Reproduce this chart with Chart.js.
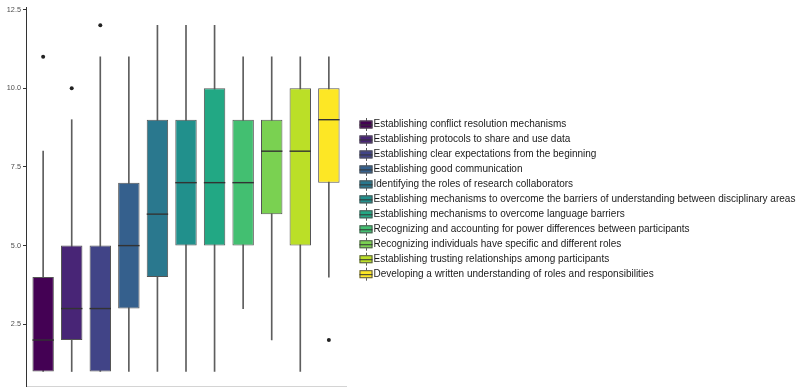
<!DOCTYPE html>
<html>
<head>
<meta charset="utf-8">
<script src="https://cdn.jsdelivr.net/npm/chart.js@4"></script>
<style>
  html, body { margin: 0; padding: 0; background: #ffffff; }
  #wrap { width: 799px; height: 390px; position: relative; }
</style>
</head>
<body>
<div id="wrap"><canvas id="c" width="799" height="390"></canvas></div>
<script>
// Collaboration practices, rated on a 1-12 scale
const categories = [
  'Establishing conflict resolution mechanisms',
  'Establishing protocols to share and use data',
  'Establishing clear expectations from the beginning',
  'Establishing good communication',
  'Identifying the roles of research collaborators',
  'Establishing mechanisms to overcome the barriers of understanding between disciplinary areas',
  'Establishing mechanisms to overcome language barriers',
  'Recognizing and accounting for power differences between participants',
  'Recognizing individuals have specific and different roles',
  'Establishing trusting relationships among participants',
  'Developing a written understanding of roles and responsibilities'
];

// Five-number summaries per practice
const whiskerLow  = [1, 1, 1, 1, 1, 1, 1, 3, 2, 1, 4];
const lowerQuart  = [1, 2, 1, 3, 4, 5, 5, 5, 6, 5, 7];
const medians     = [2, 3, 3, 5, 6, 7, 7, 7, 8, 8, 9];
const upperQuart  = [4, 5, 5, 7, 9, 9, 10, 9, 9, 10, 10];
const whiskerHigh = [8, 9, 11, 11, 12, 12, 12, 11, 11, 11, 11];

// Outlying responses: [category index, value]
const outliers = [[0, 11], [1, 10], [2, 12], [10, 2]];

// Y axis ticks
const yTicks = [2.5, 5, 7.5, 10, 12.5];
const yTickLabels = ['2.5', '5.0', '7.5', '10.0', '12.5'];

// viridis palette
const colors = ['#440154', '#482576', '#414487', '#35608D', '#2A788E', '#21908C',
                '#22A884', '#43BF71', '#7AD151', '#BBDF27', '#FDE725'];

const boxData = categories.map((c, i) => ({ x: i + 1, y: [lowerQuart[i], upperQuart[i]] }));
const whiskerData = categories.map((c, i) => ({ x: i + 1, y: [whiskerLow[i], whiskerHigh[i]] }));
const outlierData = outliers.map(o => ({ x: o[0] + 1, y: o[1] }));

// median lines across each box
const medianPlugin = {
  id: 'medians',
  afterDatasetsDraw(chart) {
    const meta = chart.getDatasetMeta(0);
    const ys = chart.scales.y;
    const ctx = chart.ctx;
    ctx.save();
    ctx.strokeStyle = '#333333';
    ctx.lineWidth = 1.4;
    meta.data.forEach((bar, i) => {
      const y = ys.getPixelForValue(medians[i]);
      ctx.beginPath();
      ctx.moveTo(bar.x - bar.width / 2, y);
      ctx.lineTo(bar.x + bar.width / 2, y);
      ctx.stroke();
    });
    ctx.restore();
  }
};

// boxplot-style legend keys
const legendPlugin = {
  id: 'boxLegend',
  afterDraw(chart) {
    const ctx = chart.ctx;
    const x0 = 359.5, y0 = 124.5, step = 14.97;
    ctx.save();
    ctx.font = '10px "Liberation Sans", Arial, sans-serif';
    ctx.textBaseline = 'middle';
    ctx.textAlign = 'left';
    categories.forEach((label, i) => {
      const y = y0 + i * step;
      ctx.strokeStyle = '#555555';
      ctx.lineWidth = 1;
      ctx.beginPath();
      ctx.moveTo(x0 + 7, y - 6.5);
      ctx.lineTo(x0 + 7, y + 6.5);
      ctx.stroke();
      ctx.fillStyle = colors[i];
      ctx.fillRect(x0, y - 4, 13, 8);
      ctx.strokeRect(x0 + 0.5, y - 3.5, 12, 7);
      ctx.strokeStyle = '#333333';
      ctx.beginPath();
      ctx.moveTo(x0, y + 0.5);
      ctx.lineTo(x0 + 13, y + 0.5);
      ctx.stroke();
      ctx.fillStyle = '#1a1a1a';
      ctx.fillText(label, x0 + 14, y);
    });
    ctx.restore();
  }
};

new Chart(document.getElementById('c'), {
  type: 'bar',
  data: {
    datasets: [
      {
        type: 'bar',
        data: boxData,
        backgroundColor: colors,
        borderColor: '#555555',
        borderWidth: 1,
        borderSkipped: false,
        categoryPercentage: 1,
        barPercentage: 0.75,
        grouped: false,
        order: 0
      },
      {
        type: 'bar',
        data: whiskerData,
        backgroundColor: '#5e5e5e',
        borderWidth: 0,
        barThickness: 1,
        grouped: false,
        order: 2
      },
      {
        type: 'line',
        data: outlierData,
        showLine: false,
        pointRadius: 2,
        pointBackgroundColor: '#222222',
        pointBorderWidth: 0,
        order: -1
      }
    ]
  },
  options: {
    responsive: false,
    devicePixelRatio: 1,
    animation: false,
    layout: { padding: { left: 0, top: 7, right: 453, bottom: 2 } },
    plugins: { legend: { display: false }, tooltip: { enabled: false } },
    scales: {
      x: {
        type: 'linear',
        min: 0.4,
        max: 11.6,
        offset: false,
        grid: { display: false },
        ticks: { display: false },
        border: { display: true, color: '#d4d4d4', width: 1 },
        afterFit(scale) { scale.height = 0; scale.paddingLeft = 0; scale.paddingRight = 0; }
      },
      y: {
        type: 'linear',
        min: 0.54,
        max: 12.58,
        afterBuildTicks(scale) { scale.ticks = yTicks.map(v => ({ value: v })); },
        ticks: {
          callback: (v, i) => yTickLabels[i],
          color: '#4d4d4d',
          font: { family: '"Liberation Sans", Arial, sans-serif', size: 7.3 },
          padding: 2
        },
        grid: { display: true, drawOnChartArea: false, drawTicks: true, tickLength: 3, color: '#333333' },
        border: { display: true, color: '#333333', width: 1 },
        afterFit(scale) { scale.width = 26; scale.paddingTop = 0; scale.paddingBottom = 0; }
      }
    }
  },
  plugins: [medianPlugin, legendPlugin]
});
</script>
</body>
</html>
